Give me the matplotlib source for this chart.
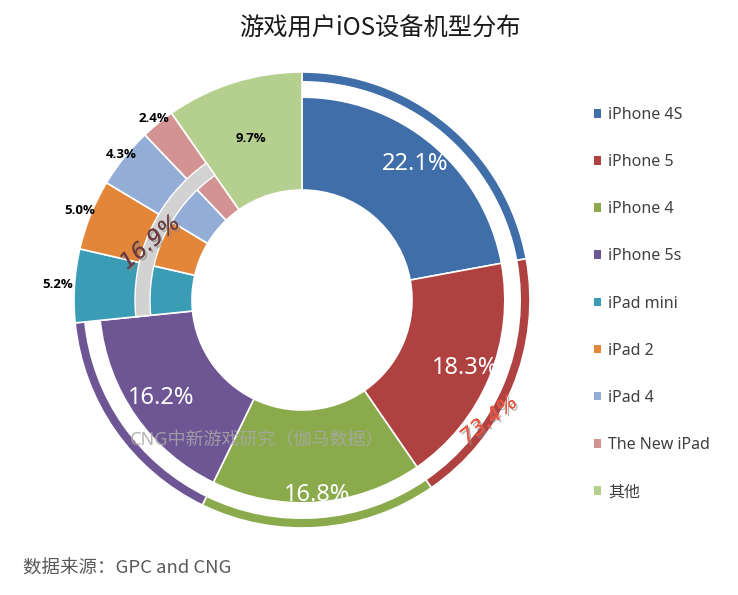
import numpy as np
import matplotlib
matplotlib.use("Agg")
import matplotlib.pyplot as plt
import matplotlib.patheffects as pe

# ---------------- data ----------------
categories = ["iPhone 4S", "iPhone 5", "iPhone 4", "iPhone 5s", "iPad mini",
              "iPad 2", "iPad 4", "The New iPad", "其他"]
shares = [22.1, 18.3, 16.8, 16.2, 5.2, 5.0, 4.3, 2.4, 9.7]
groups = ["iPhone", "iPhone", "iPhone", "iPhone", "iPad", "iPad", "iPad", "iPad", "other"]
title = "游戏用户iOS设备机型分布"
source = "数据来源：GPC and CNG"
watermark = "CNG中新游戏研究（伽马数据）"

# ---------------- style / layout ----------------
colors = ["#3F6EA8", "#AF4240", "#8AAA4B", "#6E5594", "#3B9CB6",
          "#E3863A", "#93ADD7", "#D49393", "#B5CF8F"]
W, H = 738, 595
cx, cy = 302, H - 300
R_out, R_in = 228, 110
R_gap_in, R_gap_out = 202, 219
R_gray, gray_w = 167, 15
lab_r = [177, 177, 196, 172, 245, 240, 232, 234, 169]

plt.rcParams['font.family'] = ['Noto Sans', 'Noto Sans CJK SC', 'DejaVu Sans']

fig = plt.figure(figsize=(W / 100, H / 100), dpi=100)
ax = fig.add_axes([0, 0, 1, 1])

# main donut
wedges, _ = ax.pie(shares, radius=R_out, center=(cx, cy), startangle=90,
                   counterclock=False, colors=colors,
                   wedgeprops=dict(width=R_out - R_in, edgecolor="white", linewidth=1.2))

# white gap between iPhone slices and their outer ring
gap_cols = ["white" if g == "iPhone" else "none" for g in groups]
gw, _ = ax.pie(shares, radius=R_gap_out, center=(cx, cy), startangle=90,
               counterclock=False, colors=gap_cols,
               wedgeprops=dict(width=R_gap_out - R_gap_in, linewidth=0))
for w in gw:
    w.set_edgecolor("none")

# gray arc over iPad group
group_names = ["iPhone", "iPad", "other"]
group_tot = [sum(s for s, g in zip(shares, groups) if g == n) for n in group_names]
ga, _ = ax.pie(group_tot, radius=R_gray, center=(cx, cy), startangle=90,
               counterclock=False, colors=["none", "#D2D2D2", "none"],
               wedgeprops=dict(width=gray_w, linewidth=1))
for w, n in zip(ga, group_names):
    w.set_edgecolor("white" if n == "iPad" else "none")

# slice labels
cum = np.cumsum([0] + shares)
for i, (v, g) in enumerate(zip(shares, groups)):
    mid = (cum[i] + v / 2) / 100 * 360  # clockwise from top
    th = np.deg2rad(mid)
    x = cx + lab_r[i] * np.sin(th)
    y = cy + lab_r[i] * np.cos(th)
    if g == "iPhone":
        ax.text(x, y, f"{v:.1f}%", color="white", fontsize=17,
                ha="center", va="center")
    else:
        ax.text(x, y, f"{v:.1f}%", color="black", fontsize=9.5,
                fontweight="bold", ha="center", va="center",
                family=["Open Sans", "DejaVu Sans"])

# group labels
shadow = [pe.withSimplePatchShadow(offset=(1.5, -1.5), shadow_rgbFace="#8A8A8A", alpha=0.6),
          pe.Normal()]
ang_ipad = (group_tot[0] + group_tot[1] / 2) / 100 * 360 - 4
th = np.deg2rad(ang_ipad)
ax.text(cx + 162 * np.sin(th), cy + 162 * np.cos(th), f"{group_tot[1]:.1f}%",
        color="#6E3B3E", fontsize=16, style="italic", rotation=40,
        ha="center", va="center", path_effects=shadow,
        family=["DejaVu Sans"])
ang_iph = (group_tot[0] / 2) / 100 * 360 - 9.5
th = np.deg2rad(ang_iph)
ax.text(cx + 222 * np.sin(th), cy + 222 * np.cos(th), f"{group_tot[0]:.1f}%",
        color="#EA5540", fontsize=15, style="italic", rotation=38,
        ha="center", va="center", path_effects=shadow,
        family=["DejaVu Sans"])

# watermark
ax.text(257, H - 440, watermark, color="#A8A8A8", alpha=0.85, fontsize=13,
        ha="center", va="center", family=["Noto Sans", "Noto Sans CJK SC"])

ax.set_xlim(0, W)
ax.set_ylim(0, H)
ax.set_aspect("equal")
ax.axis("off")

# title & source
fig.text(380 / W, 1 - 29 / H, title, fontsize=17.5, color="#1A1A1A",
         ha="center", va="center", family=["Noto Sans CJK SC"])
fig.text(23 / W, 1 - 569 / H, source, fontsize=13.3, color="#595959",
         ha="left", va="center", family=["Noto Sans CJK SC"])

# legend
leg = ax.legend(wedges, categories, loc="upper left",
                bbox_to_anchor=(594 / W, 1 - 107 / H), bbox_transform=fig.transFigure,
                frameon=False, fontsize=11.5, labelcolor="#404040",
                handlelength=0.45, handleheight=0.45, handletextpad=0.45,
                labelspacing=1.95, borderpad=0, borderaxespad=0)
for h in leg.legend_handles:
    h.set_edgecolor("none")

fig.savefig("out.png", dpi=100)
